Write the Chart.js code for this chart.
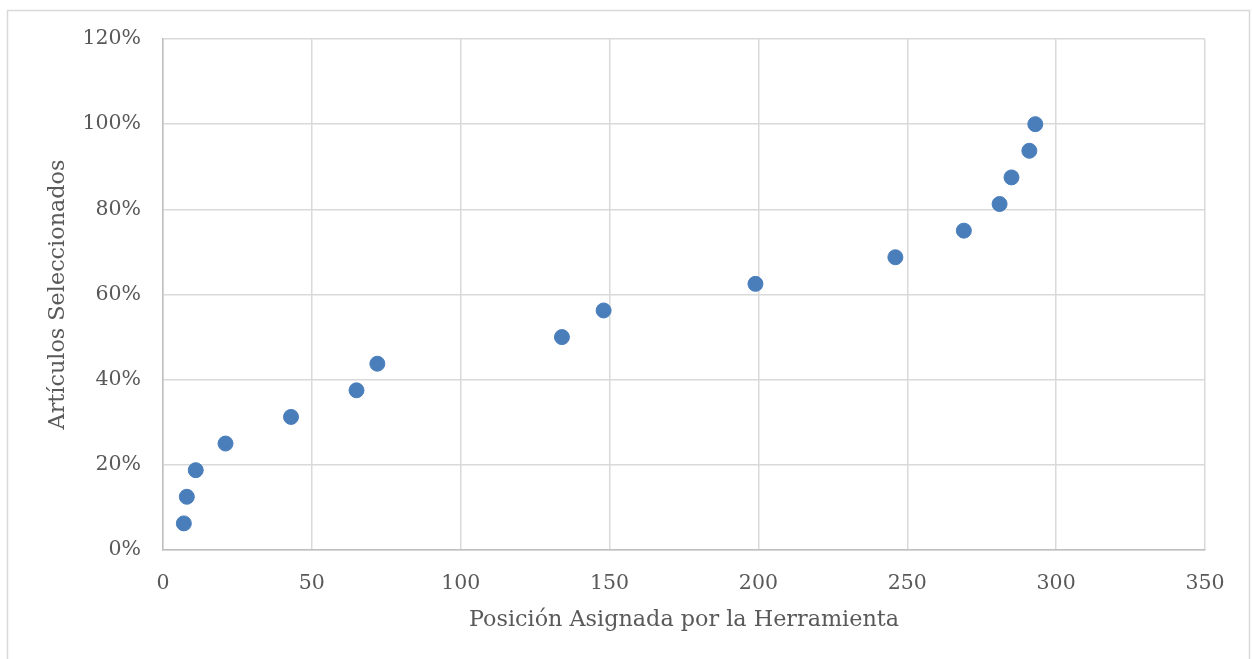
<!DOCTYPE html>
<html>
<head>
<meta charset="utf-8">
<script src="https://cdn.jsdelivr.net/npm/chart.js@4"></script>
<style>
  body { margin: 0; background: #fff; }
  #wrap { width: 1252px; height: 659px; }
</style>
</head>
<body>
<div id="wrap"><canvas id="chart" width="1252" height="659"></canvas></div>
<script>
// posicion asignada por la herramienta (x) y fraccion de articulos seleccionados (y, %)
const posiciones = [7, 8, 11, 21, 43, 65, 72, 134, 148, 199, 246, 269, 281, 285, 291, 293];
const seleccionados = [6.25, 12.5, 18.75, 25, 31.25, 37.5, 43.75, 50, 56.25, 62.5, 68.75, 75, 81.25, 87.5, 93.75, 100];
const xTicks = [0, 50, 100, 150, 200, 250, 300, 350];
const yTicks = [0, 20, 40, 60, 80, 100, 120];

const puntos = posiciones.map((x, i) => ({ x: x, y: seleccionados[i] }));
const fontFam = "'DejaVu Serif', 'Liberation Serif', serif";

// borde exterior gris del grafico
const frame = {
    id: 'frame',
    beforeDraw(chart) {
        const ctx = chart.ctx;
        ctx.save();
        ctx.strokeStyle = '#d9d9d9';
        ctx.lineWidth = 1.5;
        ctx.strokeRect(7.5, 10.5, 1242, 660);
        ctx.restore();
    }
};

new Chart(document.getElementById('chart'), {
    type: 'scatter',
    data: {
        datasets: [{
            label: 'Artículos',
            data: puntos,
            backgroundColor: '#4a7ebb',
            borderColor: '#4a7ebb',
            pointRadius: 7.5,
            pointHoverRadius: 7.5
        }]
    },
    options: {
        responsive: false,
        animation: false,
        layout: { padding: { left: 0, top: 39, right: 47, bottom: 0 } },
        plugins: {
            legend: { display: false },
            tooltip: { enabled: false }
        },
        scales: {
            x: {
                type: 'linear',
                min: 0,
                max: 350,
                afterBuildTicks: (axis) => { axis.ticks = xTicks.map(v => ({ value: v })); },
                afterFit: (axis) => { axis.height = 109; },
                grid: { color: '#d9d9d9', lineWidth: 1.5, drawTicks: false },
                border: { color: '#bfbfbf', width: 1.5 },
                ticks: { color: '#595959', font: { family: fontFam, size: 20.5 }, padding: 21 },
                title: {
                    display: true,
                    text: 'Posición Asignada por la Herramienta',
                    color: '#595959',
                    font: { family: fontFam, size: 22.3 },
                    padding: { top: 4, bottom: 25 }
                }
            },
            y: {
                min: 0,
                max: 120,
                afterBuildTicks: (axis) => { axis.ticks = yTicks.map(v => ({ value: v })); },
                afterFit: (axis) => { axis.width = 163; },
                grid: { color: '#d9d9d9', lineWidth: 1.5, drawTicks: false },
                border: { color: '#bfbfbf', width: 1.5 },
                ticks: {
                    color: '#595959',
                    font: { family: fontFam, size: 20.5 },
                    padding: 22,
                    callback: (v) => v + '%'
                },
                title: {
                    display: true,
                    text: 'Artículos Seleccionados',
                    color: '#595959',
                    font: { family: fontFam, size: 22.3 },
                    padding: { top: 45, bottom: 0 }
                }
            }
        }
    },
    plugins: [frame]
});
</script>
</body>
</html>
